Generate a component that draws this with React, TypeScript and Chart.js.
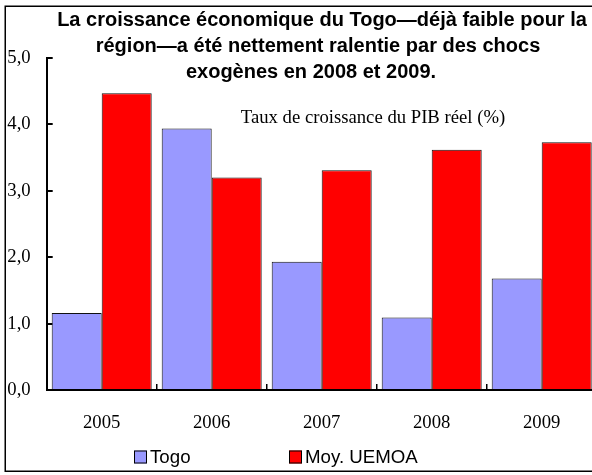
import React, { useEffect, useRef } from "react";
import { Chart, registerables } from "chart.js";

Chart.register(...registerables);

const categories = ["2005", "2006", "2007", "2008", "2009"];
const togoValues = [1.16, 3.94, 1.93, 1.09, 1.68];
const uemoaValues = [4.47, 3.2, 3.31, 3.62, 3.73];
const seriesLabels = ["Togo", "Moy. UEMOA"];
const seriesColors = ["#9999FF", "#FF0000"];
const titleLines = [
  "La croissance économique du Togo—déjà faible pour la",
  "région—a été nettement ralentie par des chocs",
  "exogènes en 2008 et 2009.",
];
const subtitleText = "Taux de croissance du PIB réel (%)";
const yMin = 0;
const yMax = 5;
const yStep = 1;

const SERIF = '"Liberation Serif", "Times New Roman", serif';
const SANS = '"Liberation Sans", Arial, sans-serif';
const FS = 18.7;
const TITLE_FS = 20;

const decorPlugin = {
  id: "decor",
  beforeDraw(chart: any) {
    const ctx = chart.ctx;
    ctx.save();
    ctx.fillStyle = "#fff";
    ctx.fillRect(0, 0, chart.width, chart.height);
    ctx.strokeStyle = "#000";
    ctx.lineWidth = 1.5;
    ctx.strokeRect(5.25, 6.25, 700, 465);
    ctx.restore();
  },
  afterDraw(chart: any) {
    const ctx = chart.ctx;
    ctx.save();
    ctx.fillStyle = "#000";
    ctx.textBaseline = "middle";
    ctx.textAlign = "center";
    ctx.font = `bold ${TITLE_FS}px ${SANS}`;
    const centers = [322, 318, 311];
    titleLines.forEach((line, i) => ctx.fillText(line, centers[i], 20 + i * 26));
    ctx.font = `${FS}px ${SERIF}`;
    ctx.fillText(subtitleText, 373, 118);
    // legend
    const xs = [134, 289];
    const ly = 457;
    ctx.font = `${FS}px ${SANS}`;
    ctx.textAlign = "left";
    chart.data.datasets.forEach((ds: any, i: number) => {
      const x = xs[i];
      ctx.fillStyle = ds.backgroundColor;
      ctx.fillRect(x, ly - 6.5, 13, 13);
      ctx.strokeStyle = "#000";
      ctx.lineWidth = 1;
      ctx.strokeRect(x + 0.5, ly - 6, 12, 12);
      ctx.fillStyle = "#000";
      ctx.fillText(ds.label, x + 16, ly + 1);
    });
    ctx.restore();
  },
};

export default function App() {
  const ref = useRef<HTMLCanvasElement | null>(null);
  useEffect(() => {
    if (!ref.current) return;
    const chart = new Chart(ref.current, {
      type: "bar",
      data: {
        labels: categories,
        datasets: [
          {
            label: seriesLabels[0],
            data: togoValues,
            backgroundColor: seriesColors[0],
            borderColor: "#111",
            borderWidth: 1,
            categoryPercentage: 100 / 110,
            barPercentage: 1,
          },
          {
            label: seriesLabels[1],
            data: uemoaValues,
            backgroundColor: seriesColors[1],
            borderColor: "#111",
            borderWidth: 1,
            categoryPercentage: 100 / 110,
            barPercentage: 1,
          },
        ],
      },
      options: {
        responsive: false,
        animation: false,
        devicePixelRatio: 1,
        layout: { padding: { left: 6, right: 3.3, top: 58, bottom: 45 } },
        plugins: {
          legend: { display: false },
          title: { display: false },
          tooltip: { enabled: false },
        },
        scales: {
          x: {
            grid: {
              offset: true,
              drawOnChartArea: false,
              drawTicks: true,
              tickLength: -6,
              color: "#000",
              lineWidth: 1.5,
            },
            border: { display: true, color: "#000", width: 2 },
            ticks: {
              padding: 28,
              color: "#000",
              font: { family: SERIF, size: FS },
            },
            afterFit: (s: any) => {
              s.height = 40;
            },
          },
          y: {
            min: yMin,
            max: yMax,
            grid: {
              drawOnChartArea: false,
              drawTicks: true,
              tickLength: -6,
              color: "#000",
              lineWidth: 2,
            },
            border: { display: true, color: "#000", width: 2 },
            ticks: {
              stepSize: yStep,
              padding: 22,
              color: "#000",
              font: { family: SERIF, size: FS },
              callback: (v: any) => Number(v).toFixed(1).replace(".", ","),
            },
            afterFit: (s: any) => {
              s.width = 40.7;
            },
          },
        },
      },
      plugins: [decorPlugin],
    });
    return () => chart.destroy();
  }, []);
  return (
    <div
      style={{
        position: "fixed",
        left: 0,
        top: 0,
        width: 592,
        height: 475,
        overflow: "hidden",
        background: "#fff",
      }}
    >
      <canvas ref={ref} width={600} height={475} style={{ display: "block" }} />
    </div>
  );
}
